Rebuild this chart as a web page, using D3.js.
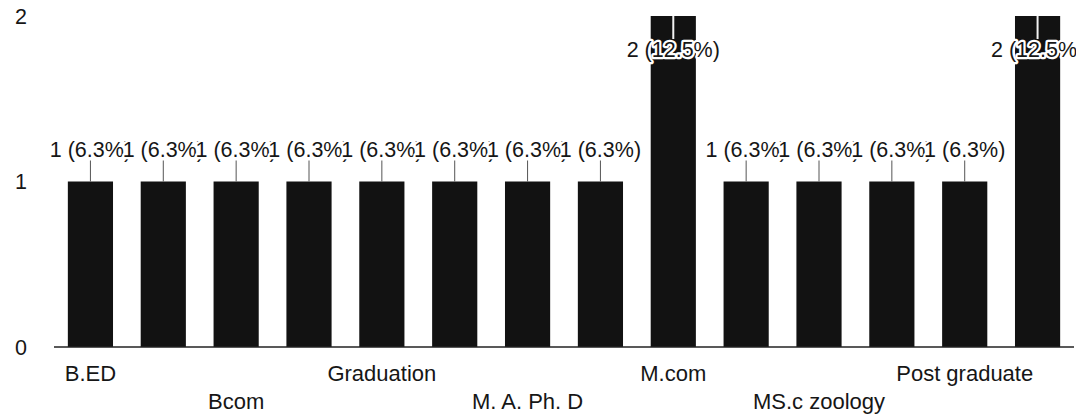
<!DOCTYPE html>
<html>
<head>
<meta charset="utf-8">
<script src="https://cdn.jsdelivr.net/npm/d3@7"></script>
<style>
  html, body { margin: 0; padding: 0; background: #fff; }
  svg { display: block; font-family: "Liberation Sans", Arial, sans-serif; }
</style>
</head>
<body>
<svg id="chart" width="1076" height="415"></svg>
<script>
// ---- data ----
// Only every other category name is printed on the axis in the reference;
// the hidden names are unknown and left blank.
const categories = ["B.ED", "", "Bcom", "", "Graduation", "", "M. A. Ph. D", "",
                    "M.com", "", "MS.c zoology", "", "Post graduate", ""];
const counts = [1, 1, 1, 1, 1, 1, 1, 1, 2, 1, 1, 1, 1, 2];
const yTicks = [0, 1, 2];

// ---- layout ----
const W = 1076, H = 415;
const svg = d3.select("#chart");
svg.append("rect").attr("width", W).attr("height", H).attr("fill", "#fff");

const total = d3.sum(counts);
const idx = d3.range(categories.length);

const x = d3.scaleBand().domain(idx).range([54, 1074])
  .paddingInner(0.38).paddingOuter(0.19);
const y = d3.scaleLinear().domain([0, 2]).range([347, 16]);

const ink = "#161616";

// y tick labels
svg.append("g").selectAll("text").data(yTicks).join("text")
  .attr("x", 27).attr("y", d => y(d)).attr("dy", "0.36em")
  .attr("text-anchor", "end").attr("font-size", 21.5).attr("fill", ink)
  .text(d => d);

// bars
svg.append("g").selectAll("rect").data(idx).join("rect")
  .attr("x", i => x(i)).attr("width", x.bandwidth())
  .attr("y", i => y(counts[i])).attr("height", i => y(0) - y(counts[i]))
  .attr("fill", "#121212");

// baseline
svg.append("line")
  .attr("x1", x.range()[0]).attr("x2", x.range()[1])
  .attr("y1", y(0)).attr("y2", y(0))
  .attr("stroke", "#222").attr("stroke-width", 1.5);

// x labels, staggered in two rows, only every other one
const xl = svg.append("g");
idx.filter(i => categories[i] !== "").forEach((i, k) => {
  xl.append("text")
    .attr("x", x(i) + x.bandwidth() / 2)
    .attr("y", k % 2 === 0 ? 381 : 409)
    .attr("text-anchor", "middle").attr("font-size", 22).attr("fill", ink)
    .text(categories[i]);
});

// data labels with leader lines
const fmt = d3.format(".1f");
const leaders = svg.append("g");
const texts = svg.append("g");
idx.forEach(i => {
  const cx = x(i) + x.bandwidth() / 2;
  const top = y(counts[i]);
  const inside = top - 30 < 10;     // not enough room above: put label inside
  const base = inside ? top + 41 : top - 25;
  const l1 = inside ? top : top - 21;
  const l2 = inside ? top + 23 : top;
  leaders.append("line")
    .attr("x1", cx).attr("x2", cx).attr("y1", l1).attr("y2", l2)
    .attr("stroke", inside ? "#f2f2f2" : "#555")
    .attr("stroke-width", inside ? 2 : 1);
  texts.append("text")
    .attr("x", cx).attr("y", base)
    .attr("text-anchor", "middle").attr("font-size", 21.5)
    .attr("fill", ink)
    .attr("stroke", "#fff").attr("stroke-width", 4.5)
    .attr("stroke-linejoin", "round")
    .attr("paint-order", "stroke")
    .text(`${counts[i]} (${fmt(counts[i] / total * 100)}%)`);
});
</script>
</body>
</html>
